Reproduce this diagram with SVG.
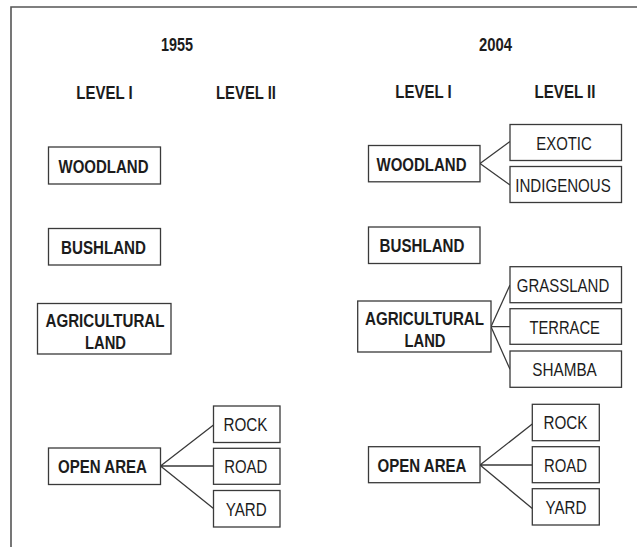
<svg xmlns="http://www.w3.org/2000/svg" width="637" height="547" viewBox="0 0 637 547">
  <style>
    .frame { fill: none; stroke: #555; stroke-width: 1.6; }
    .box { fill: #fff; stroke: #3a3a3a; stroke-width: 1.3; }
    .link { fill: none; stroke: #3a3a3a; stroke-width: 1.3; }
    text { font-family: "Liberation Sans", Arial, sans-serif; font-size: 17.5px; fill: #1c1c1c; text-anchor: middle; }
    .b { font-weight: bold; }
  </style>
  <rect width="637" height="547" fill="#fff"/>
  <!-- outer frame (top and left edges) -->
  <path class="frame" d="M11,547 V7 H637"/>

  <!-- column headings -->
  <g id="headings">
    <text class="b" x="177" y="50.8" textLength="32" lengthAdjust="spacingAndGlyphs">1955</text>
    <text class="b" x="104.5" y="99" textLength="56.5" lengthAdjust="spacingAndGlyphs">LEVEL I</text>
    <text class="b" x="246" y="99" textLength="60" lengthAdjust="spacingAndGlyphs">LEVEL II</text>
    <text class="b" x="495.5" y="50.8" textLength="33" lengthAdjust="spacingAndGlyphs">2004</text>
    <text class="b" x="423.5" y="98" textLength="56.5" lengthAdjust="spacingAndGlyphs">LEVEL I</text>
    <text class="b" x="565" y="98" textLength="61" lengthAdjust="spacingAndGlyphs">LEVEL II</text>
  </g>

  <!-- connectors -->
  <g id="connectors">
    <path class="link" d="M160.5,466 L213.5,425 M160.5,466 H213.5 M160.5,466 L213.5,508.5"/>
    <path class="link" d="M480,163.5 L510,141.5 M480,163.5 L510,185"/>
    <path class="link" d="M491,326.7 L510,285 M491,326.7 H510 M491,326.7 L510,369.3"/>
    <path class="link" d="M480,465 L532.3,424 M480,465 H532.3 M480,465 L532.3,508.5"/>
  </g>

  <!-- 1955 -->
  <g id="n1955-woodland">
    <rect class="box" x="48.5" y="147" width="112" height="37"/>
    <text class="b" x="103.5" y="172.5" textLength="90" lengthAdjust="spacingAndGlyphs">WOODLAND</text>
  </g>
  <g id="n1955-bushland">
    <rect class="box" x="48.5" y="228.5" width="112" height="36.5"/>
    <text class="b" x="103.5" y="253.5" textLength="85" lengthAdjust="spacingAndGlyphs">BUSHLAND</text>
  </g>
  <g id="n1955-agricultural">
    <rect class="box" x="37.5" y="303.5" width="133.5" height="50.5"/>
    <text class="b" x="105" y="327" textLength="119" lengthAdjust="spacingAndGlyphs">AGRICULTURAL</text>
    <text class="b" x="105.5" y="348.5" textLength="41" lengthAdjust="spacingAndGlyphs">LAND</text>
  </g>
  <g id="n1955-openarea">
    <rect class="box" x="48.5" y="448" width="112" height="36.5"/>
    <text class="b" x="102.5" y="473" textLength="89" lengthAdjust="spacingAndGlyphs">OPEN AREA</text>
  </g>
  <g id="n1955-rock">
    <rect class="box" x="213.5" y="406" width="66.5" height="36.5"/>
    <text x="245.5" y="431" textLength="44" lengthAdjust="spacingAndGlyphs">ROCK</text>
  </g>
  <g id="n1955-road">
    <rect class="box" x="213.5" y="448.3" width="66.5" height="36"/>
    <text x="245.7" y="473" textLength="43" lengthAdjust="spacingAndGlyphs">ROAD</text>
  </g>
  <g id="n1955-yard">
    <rect class="box" x="213.5" y="490.5" width="66.5" height="36.5"/>
    <text x="246.2" y="515.5" textLength="41" lengthAdjust="spacingAndGlyphs">YARD</text>
  </g>

  <!-- 2004 -->
  <g id="n2004-woodland">
    <rect class="box" x="368.5" y="145.5" width="111.5" height="36.3"/>
    <text class="b" x="421.5" y="170.5" textLength="90" lengthAdjust="spacingAndGlyphs">WOODLAND</text>
  </g>
  <g id="n2004-exotic">
    <rect class="box" x="510" y="124.5" width="111.5" height="36"/>
    <text x="564" y="149.5" textLength="55.5" lengthAdjust="spacingAndGlyphs">EXOTIC</text>
  </g>
  <g id="n2004-indigenous">
    <rect class="box" x="510" y="166.5" width="111.5" height="36"/>
    <text x="563" y="191.5" textLength="95.5" lengthAdjust="spacingAndGlyphs">INDIGENOUS</text>
  </g>
  <g id="n2004-bushland">
    <rect class="box" x="368.5" y="227" width="111.5" height="36.5"/>
    <text class="b" x="422" y="252" textLength="85" lengthAdjust="spacingAndGlyphs">BUSHLAND</text>
  </g>
  <g id="n2004-grassland">
    <rect class="box" x="510" y="266.7" width="111.5" height="36"/>
    <text x="563" y="291.5" textLength="92.5" lengthAdjust="spacingAndGlyphs">GRASSLAND</text>
  </g>
  <g id="n2004-terrace">
    <rect class="box" x="510" y="308.7" width="111.5" height="35.6"/>
    <text x="564.7" y="333.5" textLength="70.5" lengthAdjust="spacingAndGlyphs">TERRACE</text>
  </g>
  <g id="n2004-shamba">
    <rect class="box" x="510" y="351" width="111.5" height="36.3"/>
    <text x="564.5" y="376" textLength="64.5" lengthAdjust="spacingAndGlyphs">SHAMBA</text>
  </g>
  <g id="n2004-agricultural">
    <rect class="box" x="357.7" y="301" width="133.3" height="51"/>
    <text class="b" x="424.5" y="325" textLength="119" lengthAdjust="spacingAndGlyphs">AGRICULTURAL</text>
    <text class="b" x="425" y="346.5" textLength="41" lengthAdjust="spacingAndGlyphs">LAND</text>
  </g>
  <g id="n2004-openarea">
    <rect class="box" x="368.5" y="446.7" width="111.5" height="36"/>
    <text class="b" x="422" y="471.5" textLength="89" lengthAdjust="spacingAndGlyphs">OPEN AREA</text>
  </g>
  <g id="n2004-rock">
    <rect class="box" x="532.3" y="404.3" width="67" height="36.4"/>
    <text x="565.5" y="429" textLength="44" lengthAdjust="spacingAndGlyphs">ROCK</text>
  </g>
  <g id="n2004-road">
    <rect class="box" x="532.3" y="446.7" width="67" height="36"/>
    <text x="565.5" y="471.5" textLength="43" lengthAdjust="spacingAndGlyphs">ROAD</text>
  </g>
  <g id="n2004-yard">
    <rect class="box" x="532.3" y="488.7" width="67" height="36.3"/>
    <text x="566" y="513.5" textLength="41" lengthAdjust="spacingAndGlyphs">YARD</text>
  </g>
</svg>
